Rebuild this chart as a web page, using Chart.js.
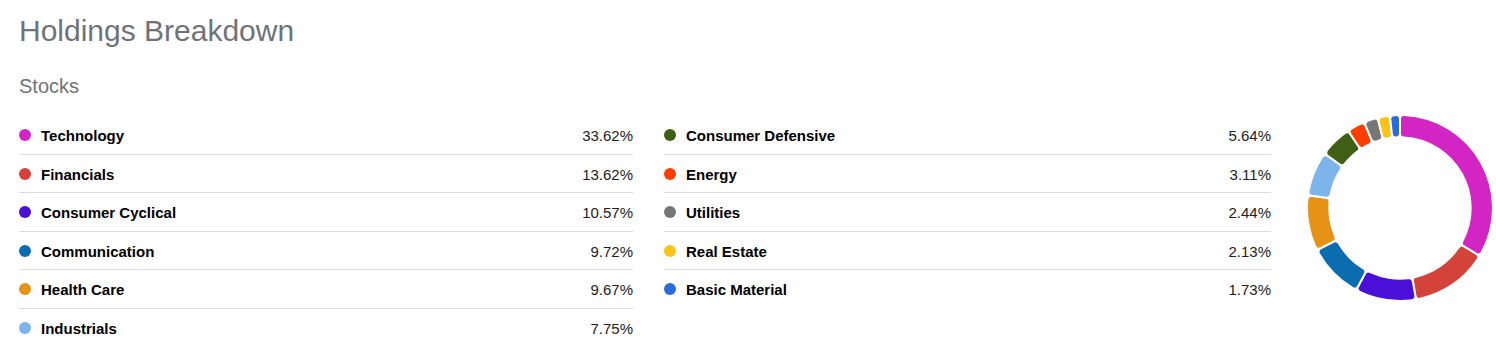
<!DOCTYPE html>
<html>
<head>
<meta charset="utf-8">
<script src="https://cdn.jsdelivr.net/npm/chart.js@4/dist/chart.umd.min.js"></script>
<style>
  html, body { margin: 0; padding: 0; background: #fff; }
  body { width: 1496px; height: 355px; position: relative; overflow: hidden;
         font-family: "Liberation Sans", Arial, sans-serif; }
  #title { position: absolute; left: 19px; top: 16px; font-size: 30px; line-height: 30px; color: #6f7377; }
  #subtitle { position: absolute; left: 19px; top: 76px; font-size: 20px; line-height: 20px; color: #6f7377; }
  .col { position: absolute; top: 116px; }
  #colLeft { left: 19px; width: 614px; }
  #colRight { left: 664px; width: 607px; }
  .row { position: relative; height: 37.5px; border-bottom: 1px solid #dcdcdc; }
  .row:last-child { border-bottom: none; }
  .dot { position: absolute; left: 0; top: 13px; width: 12px; height: 12px; border-radius: 50%; }
  .name { position: absolute; left: 22px; top: 11px; font-size: 15px; line-height: 17px; font-weight: bold; color: #000; }
  .pct { position: absolute; right: 0; top: 11px; font-size: 15px; line-height: 17px; color: #222; }
  #donutBox { position: absolute; left: 1306px; top: 114px; width: 188px; height: 188px; }
</style>
</head>
<body>
<div id="title">Holdings Breakdown</div>
<div id="subtitle">Stocks</div>
<div class="col" id="colLeft"></div>
<div class="col" id="colRight"></div>
<div id="donutBox"><canvas id="donut"></canvas></div>

<script>
const sectors = [
  "Technology", "Financials", "Consumer Cyclical", "Communication", "Health Care",
  "Industrials", "Consumer Defensive", "Energy", "Utilities", "Real Estate", "Basic Material"
];
const weights = [33.62, 13.62, 10.57, 9.72, 9.67, 7.75, 5.64, 3.11, 2.44, 2.13, 1.73];
const sectorColors = [
  "#d325c3", "#d4433a", "#4a10d8", "#0b6cb0", "#e69217",
  "#7db5ea", "#3f5f15", "#fe3d00", "#767676", "#fbc318", "#2b6ad9"
];
const leftCount = 6;

const colLeft = document.querySelector("#colLeft");
const colRight = document.querySelector("#colRight");

sectors.forEach((sector, i) => {
  const row = document.createElement("div");
  row.className = "row";
  const dot = document.createElement("span");
  dot.className = "dot";
  dot.style.background = sectorColors[i];
  const name = document.createElement("span");
  name.className = "name";
  name.textContent = sector;
  const pct = document.createElement("span");
  pct.className = "pct";
  pct.textContent = weights[i].toFixed(2) + "%";
  row.appendChild(dot);
  row.appendChild(name);
  row.appendChild(pct);
  (i < leftCount ? colLeft : colRight).appendChild(row);
});

new Chart(document.querySelector("#donut"), {
  type: "doughnut",
  data: {
    labels: sectors,
    datasets: [{
      data: weights,
      backgroundColor: sectorColors,
      borderColor: "#ffffff",
      borderWidth: 2,
      borderRadius: 4,
      hoverOffset: 0
    }]
  },
  options: {
    responsive: true,
    maintainAspectRatio: false,
    animation: false,
    cutout: "76%",
    layout: { padding: 0 },
    plugins: {
      legend: { display: false },
      tooltip: { enabled: false }
    }
  }
});
</script>
</body>
</html>
